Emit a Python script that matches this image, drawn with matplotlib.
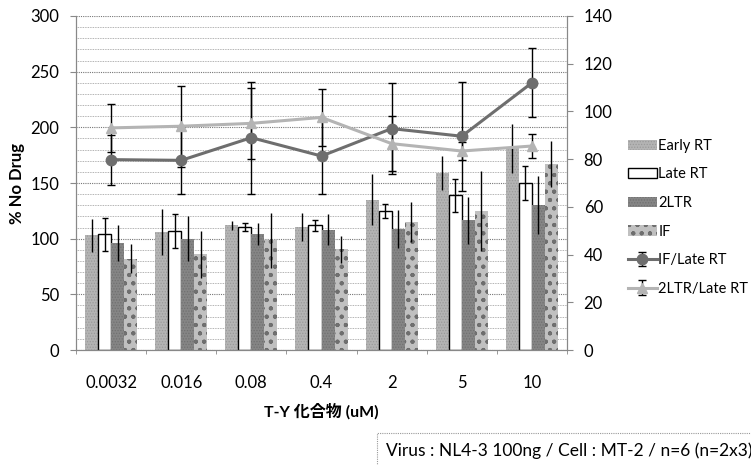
import numpy as np
import matplotlib.pyplot as plt
from matplotlib.ticker import MultipleLocator
from matplotlib.patches import Rectangle

plt.rcParams['font.family'] = ['Lato', 'Noto Sans CJK JP', 'DejaVu Sans']
plt.rcParams['hatch.linewidth'] = 0.6

categories = ["0.0032", "0.016", "0.08", "0.4", "2", "5", "10"]

# bars, left axis (% No Drug)
early = [103, 106, 112, 110.5, 135, 159, 181]
early_err = [15, 21, 4, 13, 23, 15, 22]
late = [104, 107, 110.5, 112, 125, 139, 150]
late_err = [15, 15, 4, 5, 6, 15, 15]
ltr2 = [96, 100, 104.5, 108, 108.5, 116.5, 130]
ltr2_err = [16, 20, 10, 14, 17, 21, 26]
integ = [82, 86, 98.5, 90.5, 115, 125, 167]
integ_err = [13, 21, 25, 12, 18, 36, 21]

# ratio lines, right axis
if_late = [79.8, 79.5, 89, 81.3, 92.8, 89.6, 112]
if_late_err = [10.5, 14, 23.5, 16, 19, 22.8, 14.5]
ltr_late = [93.1, 93.8, 95, 97.5, 86.5, 83.4, 85.5]
ltr_late_err = [10, 17, 15, 12, 11.5, 3.6, 5]

x = np.arange(len(categories))
w = 0.186

fig = plt.figure(figsize=(7.51, 4.65), dpi=100)
ax = fig.add_axes([76/751, 1-350/465, (567-76)/751, (350-16)/465])
ax2 = ax.twinx()

ax.set_ylim(0, 300)
ax.set_xlim(-0.5, len(categories) - 0.5)
ax.yaxis.set_major_locator(MultipleLocator(50))
ax.yaxis.set_minor_locator(MultipleLocator(10))
ax.grid(True, which='major', axis='y', color='#777777', linestyle=(0, (1, 1)), linewidth=0.8)
ax.grid(True, which='minor', axis='y', color='#999999', linestyle=(0, (1, 1)), linewidth=0.6)
ax.set_axisbelow(True)

ekw = dict(ecolor='black', elinewidth=1.0, capsize=0)
ax.bar(x - 1.5*w, early, w, yerr=early_err, color='#b4b4b4', hatch='......',
       edgecolor='#9a9a9a', linewidth=0, error_kw=ekw, label='Early RT', zorder=2)
ax.bar(x - 0.5*w, late, w, yerr=late_err, color='white', edgecolor='black',
       linewidth=1.0, error_kw=dict(ekw, capsize=2), label='Late RT', zorder=2)
ax.bar(x + 0.5*w, ltr2, w, yerr=ltr2_err, color='#858585', hatch='......',
       edgecolor='#707070', linewidth=0, error_kw=ekw, label='2LTR', zorder=2)
ax.bar(x + 1.5*w, integ, w, yerr=integ_err, color='#c0c0c0', hatch='oo..',
       edgecolor='#6e6e6e', linewidth=0, error_kw=ekw, label='IF', zorder=2)

ax2.set_ylim(0, 140)
ax2.yaxis.set_major_locator(MultipleLocator(20))
ax2.errorbar(x, if_late, yerr=if_late_err, color='#6e6e6e', marker='o', markersize=7.5,
             linewidth=2.2, ecolor='black', elinewidth=1.0, capsize=3, label='IF/Late RT', zorder=3)
ax2.errorbar(x, ltr_late, yerr=ltr_late_err, color='#b4b4b4', marker='^', markersize=7.5,
             linewidth=2.2, ecolor='black', elinewidth=1.0, capsize=3, label='2LTR/Late RT', zorder=3)

ax.set_xticks(x)
ax.set_xticklabels(categories, fontsize=12)
ax.set_xticks(np.arange(-0.5, len(categories)), minor=True)
ax.tick_params(axis='x', which='major', length=0, pad=18)
ax.tick_params(axis='x', which='minor', length=3, color='#888888')
ax.tick_params(axis='y', which='major', labelsize=12, length=4, color='#888888', pad=8)
ax.tick_params(axis='y', which='minor', length=0)
ax2.tick_params(axis='y', labelsize=12, length=4, color='#888888', pad=8)

for a in (ax, ax2):
    for s in a.spines.values():
        s.set_color('#888888')
        s.set_linewidth(0.8)
    a.spines['top'].set_visible(False)

ax.set_xlabel('T-Y 化合物 (uM)', fontsize=11.5, fontweight='bold', labelpad=9)
ax.set_ylabel('% No Drug', fontsize=12, fontweight='bold', labelpad=4)

h1, l1 = ax.get_legend_handles_labels()
h2, l2 = ax2.get_legend_handles_labels()
fig.legend(h1 + h2, l1 + l2, loc='upper left', bbox_to_anchor=(622/751, 1-133/465),
           frameon=False, fontsize=10.5, handlelength=2.0, handletextpad=0.1,
           labelspacing=1.0, borderaxespad=0)

fig.patches.append(Rectangle((377/751, -0.05), 0.6, (1-433/465) + 0.05,
                             transform=fig.transFigure, facecolor='white',
                             edgecolor='#999999', linestyle=(0, (1, 1)), linewidth=0.8))
fig.text(386/751, 1-451/465, 'Virus : NL4-3 100ng / Cell : MT-2 / n=6 (n=2x3)',
         fontsize=12.5, va='center', ha='left')

fig.savefig('out.png', dpi=100)
